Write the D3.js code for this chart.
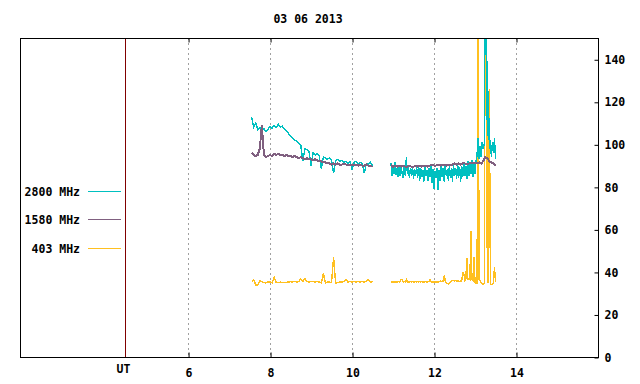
<!DOCTYPE html>
<html>
<head>
<meta charset="utf-8">
<script src="https://cdn.jsdelivr.net/npm/d3@7"></script>
<style>
  body { margin: 0; background: #fff; }
  svg text { font-family: "DejaVu Sans Mono", monospace; font-weight: bold; font-size: 11.5px; fill: #000; }
</style>
</head>
<body>
<svg id="chart" width="640" height="384"></svg>
<script>
// Chart text and ticks
const title = "03 06 2013";
const xTicks = [6, 8, 10, 12, 14];
const yTicks = [0, 20, 40, 60, 80, 100, 120, 140];
const legendLabels = ["2800 MHz", "1580 MHz", "403 MHz"];
const utHour = 4.46;

// Samples: first block starts 7.55 h, second block starts 10.95 h
const blockA = { start: 7.55, step: 0.05 };
const blockBfine = { start: 10.95, step: 0.025 };
const blockBcoarse = { start: 10.95, step: 0.05 };

// 2800 MHz
const f2800a = [113,108,110,107,108,106,107.5,106,107,108.5,
  107.5,109,108,109.5,108,108.5,107,106.5,105,104,
  103,102,101.5,100.5,99.5,92,98,97.5,96.5,90,
  96,95,95.5,94.5,88.5,94,93.5,93,93.5,92.5,
  86.5,92.5,93,92,92.5,91.5,92,91,92,88,
  91.5,92,91,91.5,91,86.5,91,90.5,91.5,90];
const f2800b = [91,85,90,86,91.5,85.5, 89,84.5,90,85,89.5,86,
  84,90,85,94,86,89.5, 84,89,85,90,83.5,88.5,
  85,89.5,84,90,83,89, 84.5,88,82.5,89.5,85,88,
  83,89,84.5,90,82,88.5, 79,87.5,84,89,78.5,88,
  83,90,84.5,89,82.5,90.5, 85,88.5,83,90,84,89,
  82.5,90.5,85,89,83.5,91, 84,89.5,82.5,90,84.5,91.5,
  85,90,83.5,92,85,91, 86,92.5,84.5,91,86,92,
  95,103,93,99,94,101, 98,100,175,175,104,125,
  98,102,94,101,96,103,93];

// 1580 MHz
const f1580a = [96,95,94.5,95,98,109,95,94,94.5,95,
  94.5,95.5,95,95.5,95,95,94.5,95,94.5,94.5,
  94,94.5,94,93.5,94,93.5,93,93.5,93,93,
  92.5,93,92.5,92,92,91.5,91.5,91,91,90.5,
  91,90.5,91,90.5,90.5,91,90.5,90,90.5,90.5,
  90,90.5,90,90.5,90,90,90.5,90,90,89.5];
const f1580b = [90.5,89.5,90,89.5,90,89.5,90,89.5,89.5,90,
  89.5,89.5,90,89.5,90,89.5,90,90,89.5,90,
  90.5,90,90,90.5,90,90.5,90.5,90,90.5,90.5,
  90.5,91,90.5,91,90.5,91,91,90.5,91,91,
  91.5,91,91,91.5,91,92,94,93.5,92,91.5,
  91,90];

// 403 MHz
const f403a = [35.5,36.5,33.8,33.8,35.8,35.5,35,34.8,35.3,35.3,
  34.8,37.6,35,35,35.2,35,35.1,35,35.3,35.4,
  35.3,35.5,35.3,35.4,36.8,35.4,37,35.4,35.3,35.5,
  35.4,35.3,35.4,35.3,34.8,39.3,34.8,35.3,35.2,35,
  47,34.8,35,35.3,35.2,35.4,36.5,35.3,35.4,35.3,
  35.4,35.3,35.4,35.3,35.4,35.3,35.5,36.4,35.3,35.4];
const f403b = [35.4,35.3,35.4,35.3,35.4,35.3,35.2,35.4,35.3,35.5,
  36.5,36.5,35.3,35.4,35.3,36.5,35.3,35.4,35.2,35.4,
  35.3,35.4,35.3,35.3,35.4,35.3,35.4,35.3,35.4,35.3,
  35.4,35.2,35.4,35.3,35.4,35.3,35.4,35.5,36.5,35.4,
  35.3,35.4,35.3,35.4,35.3,35.4,35.3,35.4,35.7,35.6,
  35.7,35.5,38.4,35.5,34.6,34.5,34.4,34.6,35,35.8,
  36,36,35.8,36,35.8,35.6,35.7,35.5,35.7,35.6,
  39.6,39.5,36,36.5,46.5,36.5,36.8,36.5,59.4,36.5,
  36,46.8,35,34.8,34.6,175,36.2,35.8,35,34.5,
  34.3,34.4,175,175,36,34.8,126,34.5,34,34.2,
  34.5,42.3,35.4];

const colors = { "2800 MHz": "#00c0c0", "1580 MHz": "#806080", "403 MHz": "#ffc020" };
const widths = { "2800 MHz": 1.4, "1580 MHz": 2, "403 MHz": 1.4 };

// drawing order: 403 underneath, then 2800, then 1580
const series = [
  { name: "403 MHz", blocks: [[blockA, f403a], [blockBfine, f403b]] },
  { name: "2800 MHz", blocks: [[blockA, f2800a], [blockBfine, f2800b]] },
  { name: "1580 MHz", blocks: [[blockA, f1580a], [blockBcoarse, f1580b]] }
];

const svg = d3.select('#chart');
const plot = { left: 20, right: 598, top: 38, bottom: 357 };

const x = d3.scaleLinear().domain([1.9, 16]).range([plot.left, plot.right]);
const y = d3.scaleLinear().domain([0, 150]).range([plot.bottom, plot.top]);

svg.append("defs").append("clipPath").attr("id", "clip")
  .append("rect")
  .attr("x", plot.left).attr("y", plot.top)
  .attr("width", plot.right - plot.left).attr("height", plot.bottom - plot.top);

// title
svg.append("text")
  .attr("x", 308).attr("y", 23)
  .attr("text-anchor", "middle")
  .text(title);

// dashed grid
svg.append("g")
  .selectAll("line")
  .data(xTicks)
  .join("line")
  .attr("x1", d => Math.round(x(d)) + 0.5)
  .attr("x2", d => Math.round(x(d)) + 0.5)
  .attr("y1", plot.top)
  .attr("y2", plot.bottom)
  .style("stroke", "#a0a0a0")
  .style("stroke-width", 1)
  .style("stroke-dasharray", "2,3");

// UT marker
svg.append("line")
  .attr("x1", Math.round(x(utHour)) + 0.5)
  .attr("x2", Math.round(x(utHour)) + 0.5)
  .attr("y1", plot.top).attr("y2", plot.bottom)
  .style("stroke", "#800000")
  .style("stroke-width", 1);

svg.append("text")
  .attr("x", x(utHour) - 1.5).attr("y", 372.5)
  .attr("text-anchor", "middle")
  .text("UT");

// data lines
const line = d3.line()
  .x(d => x(d.t))
  .y(d => y(d.v));

const lines = svg.append("g").attr("clip-path", "url(#clip)");
series.forEach(s => {
  s.blocks.forEach(([blk, vals]) => {
    const pts = vals.map((v, i) => ({ t: blk.start + i * blk.step, v: v }));
    lines.append("path")
      .datum(pts)
      .attr("d", line)
      .style("fill", "none")
      .style("stroke", colors[s.name])
      .style("stroke-width", widths[s.name])
      .style("shape-rendering", "crispEdges");
  });
});

// frame
svg.append("rect")
  .attr("x", plot.left + 0.5).attr("y", plot.top + 0.5)
  .attr("width", plot.right - plot.left).attr("height", plot.bottom - plot.top)
  .style("fill", "none")
  .style("stroke", "#000")
  .style("stroke-width", 1);

// bottom axis
const xAxis = svg.append("g")
  .attr("transform", `translate(0.5,${plot.bottom + 0.5})`)
  .call(d3.axisBottom(x).tickValues(xTicks).tickSize(-5).tickSizeOuter(0).tickPadding(11).tickFormat(d3.format("d")));
xAxis.select(".domain").remove();

// top ticks
const topAxis = svg.append("g")
  .attr("transform", `translate(0.5,${plot.top + 0.5})`)
  .call(d3.axisTop(x).tickValues(xTicks).tickSize(-4).tickSizeOuter(0).tickFormat(""));
topAxis.select(".domain").remove();

// right axis
const yAxis = svg.append("g")
  .attr("transform", `translate(${plot.right + 0.5},0.5)`)
  .call(d3.axisRight(y).tickValues(yTicks).tickSize(-4).tickSizeOuter(0).tickPadding(6));
yAxis.select(".domain").remove();

svg.selectAll(".tick line").style("stroke", "#000");
svg.selectAll("g").attr("font-family", null).attr("font-size", null);

// legend
const legend = svg.append("g");
const legendRows = [191, 219, 248];
legendLabels.forEach((name, i) => {
  legend.append("text")
    .attr("x", 80).attr("y", legendRows[i] + 4.5)
    .attr("text-anchor", "end")
    .text(name);
  legend.append("line")
    .attr("x1", 88).attr("x2", 121)
    .attr("y1", legendRows[i] + 0.5).attr("y2", legendRows[i] + 0.5)
    .style("stroke", colors[name])
    .style("stroke-width", 1);
});
</script>
</body>
</html>
